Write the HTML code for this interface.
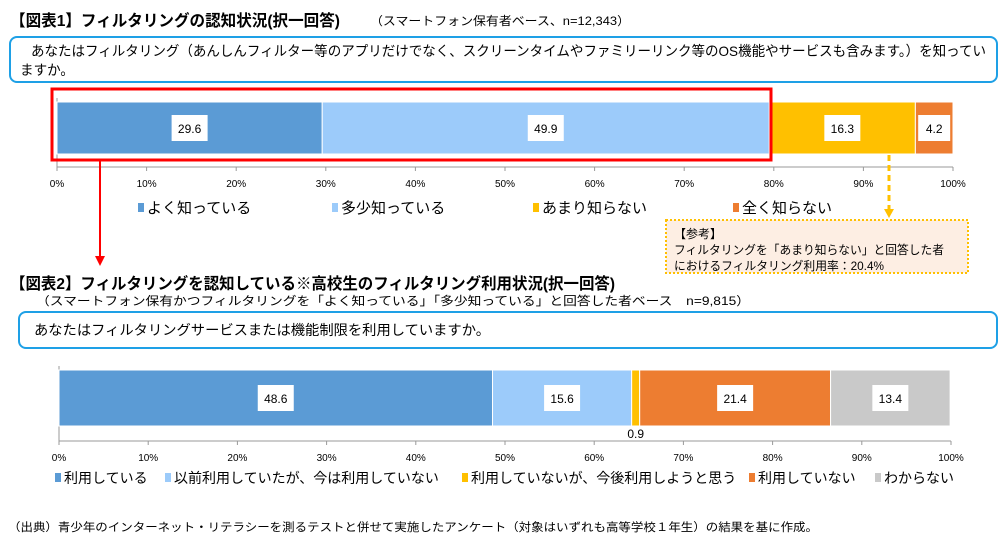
<!DOCTYPE html>
<html><head><meta charset="utf-8">
<style>
html,body{margin:0;padding:0;background:#fff;}
body{width:1000px;height:537px;overflow:hidden;position:relative;font-family:"Liberation Sans","Noto Sans CJK JP",sans-serif;}
svg text{font-family:"Liberation Sans","Noto Sans CJK JP",sans-serif;}
</style></head>
<body>
<svg id="s" width="1000" height="537" viewBox="0 0 1000 537">
  <text x="10" y="26" font-size="16" font-weight="bold" fill="#000" textLength="330" lengthAdjust="spacingAndGlyphs">【図表1】フィルタリングの認知状況(択一回答)</text>
  <text x="370" y="25" font-size="12" fill="#000" textLength="260" lengthAdjust="spacingAndGlyphs" font-family="Liberation Serif,Noto Serif CJK SC,serif">（スマートフォン保有者ベース、n=12,343）</text>
  <rect x="10" y="37" width="987" height="45" rx="7" fill="#fff" stroke="#1ea0e6" stroke-width="2"/>
  <text x="31" y="56" font-size="14" textLength="955" lengthAdjust="spacingAndGlyphs">あなたはフィルタリング（あんしんフィルター等のアプリだけでなく、スクリーンタイムやファミリーリンク等のOS機能やサービスも含みます。）を知ってい</text>
  <text x="20" y="75" font-size="14" textLength="54" lengthAdjust="spacingAndGlyphs">ますか。</text>

  <g id="c1"></g>
  <rect x="52" y="89" width="719" height="71" fill="none" stroke="#f00" stroke-width="3"/>
  <line x1="100" y1="160" x2="100" y2="258" stroke="#f00" stroke-width="2"/>
  <polygon points="95,256 105,256 100,266" fill="#f00"/>
  <line x1="889" y1="155" x2="889" y2="210" stroke="#ffc000" stroke-width="3" stroke-dasharray="6,4"/>
  <polygon points="884,209 894,209 889,218" fill="#ffc000"/>
  <rect x="666" y="220" width="302" height="53" fill="#fdeee3" stroke="#ffc000" stroke-width="2" stroke-dasharray="2,2"/>
  <text x="674" y="238" font-size="12">【参考】</text>
  <text x="674" y="254" font-size="12" textLength="270" lengthAdjust="spacingAndGlyphs">フィルタリングを「あまり知らない」と回答した者</text>
  <text x="674" y="270" font-size="12" textLength="210" lengthAdjust="spacingAndGlyphs">におけるフィルタリング利用率：20.4%</text>

  <text x="10" y="289" font-size="16" font-weight="bold" textLength="605" lengthAdjust="spacingAndGlyphs">【図表2】フィルタリングを認知している※高校生のフィルタリング利用状況(択一回答)</text>
  <text x="36" y="305" font-size="12" textLength="714" lengthAdjust="spacingAndGlyphs" font-family="Liberation Serif,Noto Serif CJK SC,serif">（スマートフォン保有かつフィルタリングを「よく知っている」「多少知っている」と回答した者ベース　n=9,815）</text>
  <rect x="19" y="312" width="978" height="36" rx="7" fill="#fff" stroke="#1ea0e6" stroke-width="2"/>
  <text x="34" y="335" font-size="14" textLength="456" lengthAdjust="spacingAndGlyphs">あなたはフィルタリングサービスまたは機能制限を利用していますか。</text>
  <g id="c2"></g>
  <text x="8" y="531" font-size="11.5" textLength="810" lengthAdjust="spacingAndGlyphs" font-family="Liberation Serif,Noto Serif CJK SC,serif">（出典）青少年のインターネット・リテラシーを測るテストと併せて実施したアンケート（対象はいずれも高等学校１年生）の結果を基に作成。</text>
</svg>
<script>
const c1Cats = ['よく知っている','多少知っている','あまり知らない','全く知らない'];
const c1Vals = [29.6, 49.9, 16.3, 4.2];
const c2Cats = ['利用している','以前利用していたが、今は利用していない','利用していないが、今後利用しようと思う','利用していない','わからない'];
const c2Vals = [48.6, 15.6, 0.9, 21.4, 13.4];
const tickLabels = ['0%','10%','20%','30%','40%','50%','60%','70%','80%','90%','100%'];
const c1Colors = ['#5b9bd5','#9ccbfa','#ffc000','#ed7d31'];
const c2Colors = ['#5b9bd5','#9ccbfa','#ffc000','#ed7d31','#c9c9c9'];
const NS='http://www.w3.org/2000/svg';
function mk(parent,tag,attrs){const e=document.createElementNS(NS,tag);for(const k in attrs)e.setAttribute(k,attrs[k]);parent.appendChild(e);return e;}
function draw(g,cfg){
  const sx=v=>cfg.x0+(cfg.x1-cfg.x0)*v/100;
  let l=mk(g,'line',{x1:cfg.x0,y1:cfg.top-4,x2:cfg.x0,y2:cfg.axisY,stroke:'#999'});
  
  
  let a=mk(g,'line',{x1:cfg.x0,y1:cfg.axisY,x2:cfg.x1,y2:cfg.axisY,stroke:'#999'});
  
  
  tickLabels.forEach((t,i)=>{
    const x=sx(i*10);
    mk(g,'line',{x1:x,y1:cfg.axisY,x2:x,y2:cfg.axisY+4,stroke:'#999'});
    const tx=mk(g,'text',{x:x,y:cfg.axisY+20,'font-size':10,'text-anchor':'middle'});
    tx.textContent=t;
    
    
  });
  let acc=0;
  cfg.vals.forEach((v,i)=>{
    const xa=sx(acc),xb=sx(acc+v);acc+=v;
    const r=mk(g,'rect',{x:xa,y:cfg.top,width:Math.max(0,xb-xa),height:cfg.h,fill:cfg.colors[i],stroke:'#fff','stroke-width':1});
    
    
    const cx=(xa+xb)/2, cy=cfg.top+cfg.h/2;
    if(v<3){
      const t=mk(g,'text',{x:cx,y:cfg.top+cfg.h+12,'font-size':12,'text-anchor':'middle'});
      t.textContent=v.toFixed(1);
      
      
    } else {
      const w=v<10?32:36;
      const b=mk(g,'rect',{x:cx-w/2,y:cy-13,width:w,height:26,fill:'#fff'});
      
      
      const t=mk(g,'text',{x:cx,y:cy+5,'font-size':12,'text-anchor':'middle'});
      t.textContent=v.toFixed(1);
      
      
    }
  });
  cfg.cats.forEach((c,i)=>{
    const x=cfg.legX[i];
    const s=mk(g,'rect',{x:x,y:cfg.legY-10,width:6,height:9,fill:cfg.colors[i]});
    
    
    const t=mk(g,'text',{x:x+9,y:cfg.legY,'font-size':cfg.legFont});
    t.textContent=c;
    
    
  });
}
draw(document.getElementById('c1'),{x0:57,x1:953,top:102,h:52,axisY:167,vals:c1Vals,cats:c1Cats,colors:c1Colors,legX:[138,332,533,733],legY:213,legFont:15});
draw(document.getElementById('c2'),{x0:59,x1:951,top:370,h:56,axisY:441,vals:c2Vals,cats:c2Cats,colors:c2Colors,legX:[55,165,462,749,875],legY:483,legFont:14});
</script>
</body></html>
